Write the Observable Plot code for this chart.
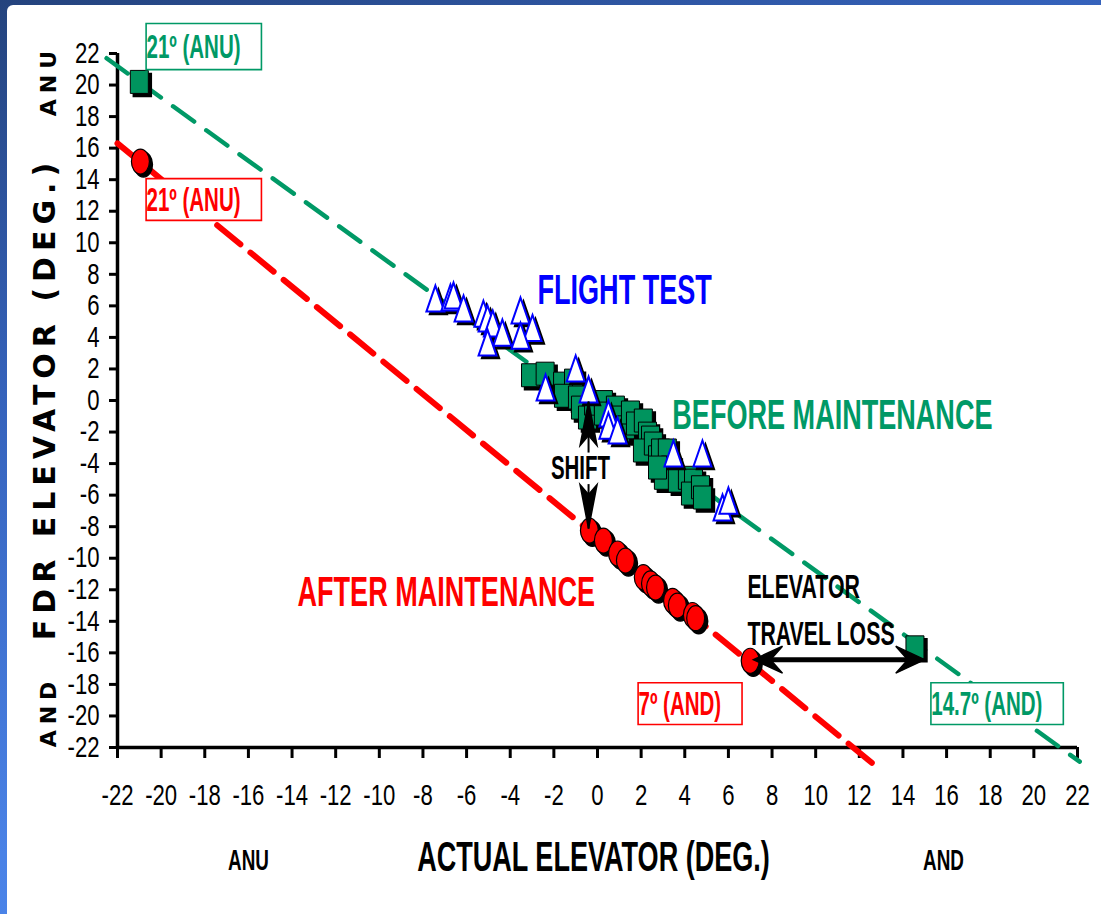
<!DOCTYPE html>
<html><head><meta charset="utf-8">
<script src="https://cdn.jsdelivr.net/npm/d3@7"></script>
<script src="https://cdn.jsdelivr.net/npm/@observablehq/plot@0.6"></script>
<style>
html,body{margin:0;padding:0;width:1101px;height:914px;overflow:hidden;}
body{background:linear-gradient(160deg,#24437d 0%,#3562bb 30%,#4a82e6 65%,#4d8bf2 100%);position:relative;}
#panel{position:absolute;left:7px;top:5px;right:0;bottom:0;background:#fff;border-top-left-radius:6px;}
#chart{position:absolute;left:0;top:0;}
</style></head><body><div id="panel"></div><div id="chart"></div>
<script>
const ticks = [-22,-20,-18,-16,-14,-12,-10,-8,-6,-4,-2,0,2,4,6,8,10,12,14,16,18,20,22];

// Before maintenance (green squares)
const beforeX = [-21.0,-3.07,-2.4,-1.6,-1.1,-1.56,-0.92,-0.78,-0.46,-0.18,0.27,0.27,0.82,0.92,1.05,1.28,1.51,1.74,2.1,2.29,2.43,2.06,2.56,2.75,2.89,3.2,3.34,3.02,2.75,3.66,4.12,4.4,4.26,4.72,4.81,14.55];
const beforeY = [20.2,1.6,1.7,1.07,1.26,0.3,0.19,-0.45,-1.08,-0.2,-0.1,-0.83,-0.45,-1.08,-1.9,-1.7,-0.76,-1.46,-1.27,-2.1,-2.35,-3.17,-2.73,-3.6,-3.17,-3.17,-4.25,-4.9,-4.25,-5.08,-4.9,-5.08,-5.9,-5.5,-6.15,-15.65];

// After maintenance (red circles)
const afterX = [-20.95,-0.37,0.27,0.92,1.28,2.1,2.43,2.66,3.44,3.66,4.35,4.5,7.0];
const afterY = [15.15,-8.25,-8.88,-9.7,-10.15,-11.2,-11.6,-11.86,-12.7,-13.0,-13.6,-13.8,-16.5];

// Flight test (triangles)
const flightX = [-7.43,-6.74,-6.6,-6.14,-5.23,-5.04,-4.8,-4.36,-5.04,-3.53,-2.98,-3.53,-2.38,-1.0,-0.41,0.5,0.5,0.92,3.48,4.81,5.73,6.0];
const flightY = [6.46,6.53,6.65,5.83,5.5,5.2,4.88,4.3,3.67,5.7,4.6,4.1,0.82,2.03,0.69,-0.83,-1.6,-1.9,-3.36,-3.36,-6.79,-6.35];

// Trend lines (dashed)
const greenLineX = [-22.5, 22.1];
const greenLineY = [21.7, -22.9];
const redLineX = [-22.0, 12.6];
const redLineY = [16.3, -23.0];

// Arrows
const shiftUp = {x: -0.41, y1: -3.3, y2: -0.07};
const shiftDown = {x: -0.41, y1: -5.3, y2: -8.12};
const travel = {x1: 7.15, x2: 15.0, y: -16.43};

const GREEN = "#009966", RED = "#ff0000", BLUE = "#0000ff";
const zip = (xs, ys) => xs.map((x, i) => ({x, y: ys[i]}));
const before = zip(beforeX, beforeY);
const after = zip(afterX, afterY);
const flight = zip(flightX, flightY);
const greenLine = zip(greenLineX, greenLineY);
const redLine = zip(redLineX, redLineY);

function rectSym(w, h) { return {draw(c) { c.moveTo(-w/2,-h/2); c.lineTo(w/2,-h/2); c.lineTo(w/2,h/2); c.lineTo(-w/2,h/2); c.closePath(); }}; }
function ellSym(w, h) { const k = 0.5523, a = w/2, b = h/2; return {draw(c) {
  c.moveTo(a,0); c.bezierCurveTo(a,b*k,a*k,b,0,b); c.bezierCurveTo(-a*k,b,-a,b*k,-a,0);
  c.bezierCurveTo(-a,-b*k,-a*k,-b,0,-b); c.bezierCurveTo(a*k,-b,a,-b*k,a,0); c.closePath(); }}; }
function triSym(w, h) { return {draw(c) { c.moveTo(0,-h/2); c.lineTo(w/2,h/2); c.lineTo(-w/2,h/2); c.closePath(); }}; }
function headSym(w, L, n) { return {draw(c) { c.moveTo(0,0); c.lineTo(w/2,L); c.lineTo(0,n); c.lineTo(-w/2,L); c.closePath(); }}; }

const SQ = rectSym(18, 23), EL = ellSym(18, 25), TR = triSym(18, 26);
const SANS = "'Liberation Sans',Arial,sans-serif";
const WIDE = "'DejaVu Sans',sans-serif";
const lbl = (txt, o) => Plot.text([txt], {text: d => d, fontFamily: SANS, fontWeight: "bold", lineAnchor: "middle", ...o});

const chart = Plot.plot({
  width: 1101, height: 914,
  marginLeft: 117, marginRight: 24, marginTop: 53, marginBottom: 167,
  x: {domain: [-22, 22]},
  y: {domain: [-22, 22]},
  style: {background: "transparent", fontFamily: SANS, fontSize: "27px", color: "black", overflow: "visible"},
  marks: [
    Plot.axisY(ticks, {tickSize: 8, tickPadding: 10, strokeWidth: 3, label: null, tickFormat: d => String(d), fontSize: 27}),
    Plot.axisX(ticks, {tickSize: 11, tickPadding: 26, strokeWidth: 3, label: null, tickFormat: d => String(d), fontSize: 27}),
    Plot.ruleX([-22], {strokeWidth: 3.5}),
    Plot.ruleY([-22], {strokeWidth: 3.5}),
    Plot.line(greenLine, {x: "x", y: "y", stroke: GREEN, strokeWidth: 4.5, strokeDasharray: "26,15"}),
    Plot.line(redLine, {x: "x", y: "y", stroke: RED, strokeWidth: 6, strokeDasharray: "30,13"}),
    Plot.dot(after, {x: "x", y: "y", symbol: EL, fill: "black", stroke: "black", dx: 3, dy: 3}),
    Plot.dot(after, {x: "x", y: "y", symbol: EL, fill: RED, stroke: "black", strokeWidth: 1.2}),
    Plot.dot(before, {x: "x", y: "y", symbol: SQ, fill: "black", stroke: "black", dx: 3, dy: 3}),
    Plot.dot(before, {x: "x", y: "y", symbol: SQ, fill: "#00945e", stroke: "black", strokeWidth: 1}),
    Plot.dot(flight, {x: "x", y: "y", symbol: TR, fill: "black", stroke: "black", dx: 3, dy: 3}),
    Plot.dot(flight, {x: "x", y: "y", symbol: TR, fill: "white", stroke: BLUE, strokeWidth: 2}),
    // SHIFT arrows
    Plot.link([shiftUp], {x1: "x", x2: "x", y1: "y1", y2: "y2", stroke: "black", strokeWidth: 2}),
    Plot.dot([shiftUp], {x: "x", y: "y2", symbol: headSym(17, 44, 34), fill: "black", stroke: "black", rotate: 0}),
    Plot.link([shiftDown], {x1: "x", x2: "x", y1: "y1", y2: "y2", stroke: "black", strokeWidth: 2}),
    Plot.dot([shiftDown], {x: "x", y: "y2", symbol: headSym(17, 44, 34), fill: "black", stroke: "black", rotate: 180}),
    // travel loss arrow
    Plot.link([travel], {x1: d => d.x1 + 0.8, x2: d => d.x2 - 0.8, y1: "y", y2: "y", stroke: "black", strokeWidth: 5}),
    Plot.dot([travel], {x: "x1", y: "y", symbol: headSym(27, 29, 17), fill: "black", stroke: "black", rotate: -90}),
    Plot.dot([travel], {x: "x2", y: "y", symbol: headSym(27, 29, 17), fill: "black", stroke: "black", rotate: 90}),
    // annotations
    lbl("FLIGHT TEST", {x: -2.75, y: 6.97, textAnchor: "start", fill: BLUE, fontSize: 33}),
    lbl("BEFORE MAINTENANCE", {x: 3.43, y: -0.95, textAnchor: "start", fill: GREEN, fontSize: 33}),
    lbl("AFTER MAINTENANCE", {x: -13.75, y: -12.18, textAnchor: "start", fill: RED, fontSize: 33}),
    lbl("SHIFT", {x: -0.78, y: -4.32, textAnchor: "middle", fill: "black", fontSize: 25}),
    lbl("ELEVATOR", {x: 6.87, y: -11.86, textAnchor: "start", fill: "black", fontSize: 26}),
    lbl("TRAVEL LOSS", {x: 6.87, y: -14.84, textAnchor: "start", fill: "black", fontSize: 26}),
    lbl("21º (ANU)", {x: -20.67, y: 22.38, textAnchor: "start", fill: GREEN, fontSize: 25}),
    lbl("21º (ANU)", {x: -20.67, y: 12.68, textAnchor: "start", fill: RED, fontSize: 25}),
    lbl("7º (AND)", {x: 1.88, y: -19.28, textAnchor: "start", fill: RED, fontSize: 25}),
    lbl("14.7º (AND)", {x: 15.3, y: -19.28, textAnchor: "start", fill: GREEN, fontSize: 25}),
    lbl("ACTUAL ELEVATOR (DEG.)", {frameAnchor: "bottom", textAnchor: "middle", dx: -4, dy: 110, fill: "black", fontSize: 33}),
    lbl("ANU", {frameAnchor: "bottom-left", textAnchor: "middle", dx: 131, dy: 113, fill: "black", fontSize: 23}),
    lbl("AND", {frameAnchor: "bottom-right", textAnchor: "middle", dx: -134, dy: 113, fill: "black", fontSize: 23}),
    lbl("FDR ELEVATOR (DEG.)", {frameAnchor: "left", textAnchor: "middle", dx: -72, dy: -2, rotate: -90, fill: "black", fontSize: 30, fontFamily: WIDE}),
    lbl("ANU", {frameAnchor: "top-left", textAnchor: "middle", dx: -69, dy: 27, rotate: -90, fill: "black", fontSize: 22, fontFamily: WIDE}),
    lbl("AND", {frameAnchor: "bottom-left", textAnchor: "middle", dx: -69, dy: -36, rotate: -90, fill: "black", fontSize: 22, fontFamily: WIDE})
  ]
});
document.getElementById("chart").appendChild(chart);

// post styling: narrow + vertical stretch of text, spacing of rotated text, boxes
d3.select(chart).selectAll("text").each(function() {
  const t = d3.select(this);
  const tr = t.attr("transform") || "";
  if (tr.includes("rotate")) {
    t.style("letter-spacing", "6px");
    return;
  }
  if (!tr.includes("translate")) return;
  const g = this.parentNode;
  const label = (g.getAttribute("aria-label") || "");
  const isTick = label.includes("tick label");
  t.attr("transform", tr + (isTick ? " scale(0.82,1.07)" : " scale(0.82,1.3)"));
  const s = this.textContent;
  if (!isTick && s.includes("º")) {
    const bb = this.getBBox();
    const col = t.attr("fill") || g.getAttribute("fill");
    const pad = (s === "21º (ANU)" && col === GREEN) ? 3.5 : 1.8;
    const rect = document.createElementNS("http://www.w3.org/2000/svg", "rect");
    g.insertBefore(rect, this);
    d3.select(rect)
      .attr("transform", t.attr("transform"))
      .attr("x", bb.x - 0.5).attr("y", bb.y - pad)
      .attr("width", bb.width + 26).attr("height", bb.height + 2 * pad)
      .attr("fill", "white").attr("stroke", col).attr("stroke-width", 1.6)
      .attr("vector-effect", "non-scaling-stroke");
  }
});
</script></body></html>
